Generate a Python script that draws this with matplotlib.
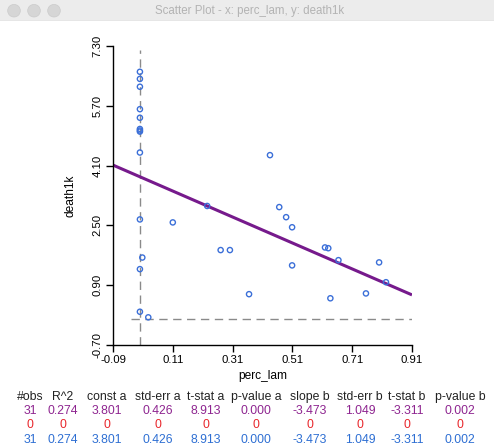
import matplotlib
matplotlib.use("Agg")
import matplotlib.pyplot as plt
from matplotlib.patches import Circle, Rectangle
import numpy as np

plt.rcParams['font.family'] = ['Liberation Sans', 'DejaVu Sans']

# Observations: percentage (x) vs deaths per 1000 (y)
perc_lam = [0.000, 0.000, 0.000, 0.000, 0.000, 0.000, 0.000, 0.000, 0.000,
            0.000, 0.008, 0.000, 0.000, 0.028,
            0.110, 0.225, 0.270, 0.301, 0.365, 0.435, 0.466, 0.489, 0.509,
            0.509, 0.619, 0.630, 0.637, 0.664, 0.756, 0.800, 0.823]
death1k = [6.61, 6.42, 6.21, 5.61, 5.38, 5.08, 5.01, 5.04, 4.45,
           2.66, 1.64, 1.33, 0.19, 0.04,
           2.58, 3.02, 1.84, 1.84, 0.66, 4.38, 2.99, 2.72, 2.45,
           1.43, 1.91, 1.89, 0.55, 1.57, 0.68, 1.51, 0.98]

# Axis ticks
x_ticks = [-0.09, 0.11, 0.31, 0.51, 0.71, 0.91]
y_ticks = [-0.70, 0.90, 2.50, 4.10, 5.70, 7.30]

# Regression summary table
stat_headers = ["#obs", "R^2", "const a", "std-err a", "t-stat a", "p-value a",
                "slope b", "std-err b", "t-stat b", "p-value b"]
stats_fit = ["31", "0.274", "3.801", "0.426", "8.913", "0.000",
             "-3.473", "1.049", "-3.311", "0.002"]
stats_excluded = ["0", "0", "0", "0", "0", "0", "0", "0", "0", "0"]
stats_all = ["31", "0.274", "3.801", "0.426", "8.913", "0.000",
             "-3.473", "1.049", "-3.311", "0.002"]

intercept = float(stats_fit[2])
slope = float(stats_fit[6])

W, H = 494, 446
fig = plt.figure(figsize=(W / 100, H / 100), dpi=100)
fig.patch.set_facecolor('white')

# Window title bar
bar = fig.add_axes([0, 1 - 21 / H, 1, 21 / H])
bar.set_xlim(0, W)
bar.set_ylim(21, 0)
bar.axis('off')
bar.add_patch(Rectangle((0, 0), W, 21, color='#ececec', zorder=0))
bar.plot([0, W], [20.5, 20.5], color='#cfcfcf', lw=1)
for cx in (14, 34, 54):
    bar.add_patch(Circle((cx, 10.7), 6.3, facecolor='#d6d6d6',
                         edgecolor='#cbcbcb', lw=0.5))
bar.text(250, 11, "Scatter Plot - x: perc_lam, y: death1k", ha='center',
         va='center', fontsize=8.3, color='#b3b3b3')

# Scatter plot
ax = fig.add_axes([113 / W, 1 - 345 / H, 299 / W, 299 / H])
ax.set_xlim(x_ticks[0], x_ticks[-1])
ax.set_ylim(y_ticks[0], y_ticks[-1])

ax.axvline(0, color='#8a8a8a', lw=1, ls=(0, (6, 4)), ymin=0, ymax=0.985, zorder=1)
ax.axhline(0, color='#8a8a8a', lw=1, ls=(0, (6, 4)), xmin=0.06, xmax=1.0, zorder=1)

ax.scatter(perc_lam, death1k, s=14, facecolors='none', edgecolors='#3b6fd8',
           linewidths=1.0, zorder=3)

xl = np.array(ax.get_xlim())
ax.plot(xl, intercept + slope * xl, color='#761a8c', lw=2.2, zorder=2,
        solid_capstyle='butt')

for side in ('top', 'right'):
    ax.spines[side].set_visible(False)
for side in ('left', 'bottom'):
    ax.spines[side].set_linewidth(1.0)
ax.set_xticks(x_ticks)
ax.set_xticklabels([f"{v:.2f}" for v in x_ticks])
ax.set_yticks(y_ticks)
ax.set_yticklabels([f"{v:.2f}" for v in y_ticks])
ax.tick_params(direction='out', length=5, width=1, labelsize=8.2, pad=2.5)
for lab in ax.get_yticklabels():
    lab.set_rotation(90)
    lab.set_va('center')

ax.set_xlabel('perc_lam', fontsize=8.6, va='center')
ax.xaxis.set_label_coords(0.5, -(376 - 345) / 299)
ax.set_ylabel('death1k', fontsize=8.6, va='center')
ax.yaxis.set_label_coords(-(113 - 70) / 299, 0.5)

# Summary table under the plot
col_x = [30, 63, 107, 158, 206, 256, 310, 360, 407, 460]
rows = [(stat_headers, 397, '#222222'),
        (stats_fit, 411.5, '#8e2590'),
        (stats_excluded, 425, '#e8262b'),
        (stats_all, 440, '#2e6fd3')]
for values, py, color in rows:
    for cx, txt in zip(col_x, values):
        fig.text(cx / W, 1 - py / H, txt, ha='center', va='center',
                 fontsize=8.8, color=color)

fig.savefig('out.png', dpi=100)
